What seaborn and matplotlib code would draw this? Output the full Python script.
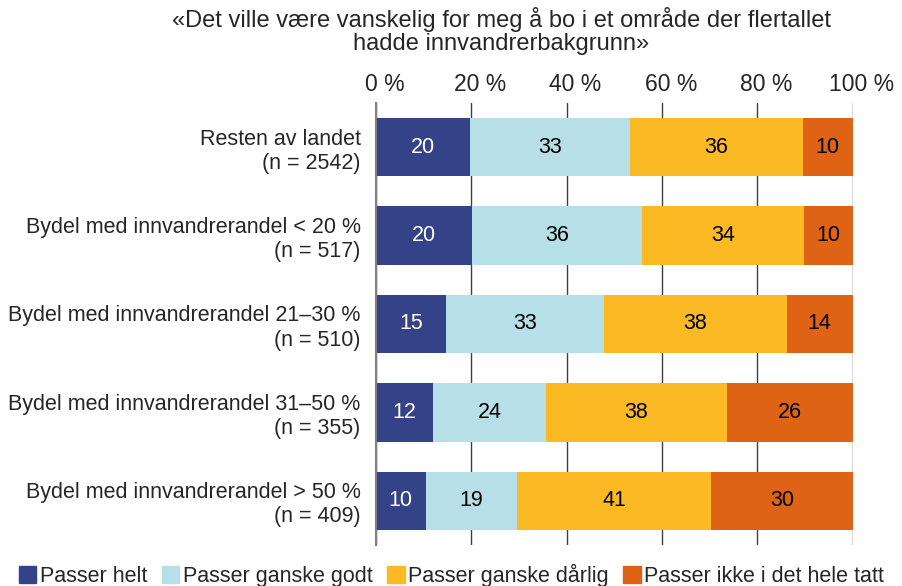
import matplotlib
matplotlib.use("Agg")
import matplotlib.pyplot as plt
import matplotlib.patches as mpatches
import matplotlib.transforms as mtransforms
import seaborn as sns
import pandas as pd
import numpy as np

# Data
kategorier = [
    "Resten av landet\n(n = 2542)",
    "Bydel med innvandrerandel < 20 %\n(n = 517)",
    "Bydel med innvandrerandel 21–30 %\n(n = 510)",
    "Bydel med innvandrerandel 31–50 %\n(n = 355)",
    "Bydel med innvandrerandel > 50 %\n(n = 409)",
]
serier = ["Passer helt", "Passer ganske godt", "Passer ganske dårlig", "Passer ikke i det hele tatt"]
passer_helt = [19.8, 20.2, 14.7, 12.0, 10.4]
passer_ganske_godt = [33.4, 35.6, 33.1, 23.6, 19.2]
passer_ganske_darlig = [36.4, 34.0, 38.4, 38.1, 40.8]
passer_ikke = [10.4, 10.2, 13.8, 26.3, 29.6]
farger = ["#344287", "#b7dfe8", "#fbb923", "#de6314"]
tekstfarger = ["white", "black", "black", "black"]

verdier = np.array([passer_helt, passer_ganske_godt, passer_ganske_darlig, passer_ikke])
kumulativ = verdier.cumsum(axis=0)

sns.set_style("white")
plt.rcParams["font.family"] = ["Liberation Sans", "DejaVu Sans"]

fig = plt.figure(figsize=(9.03, 5.86), dpi=100)
ax = fig.add_axes([0.4164, 0.070, 0.5277, 0.7542])

# stablede søyler: tegn kumulative summer bakfra
for i in range(len(serier) - 1, -1, -1):
    df = pd.DataFrame({"kategori": kategorier, "verdi": kumulativ[i]})
    sns.barplot(data=df, x="verdi", y="kategori", color=farger[i], width=0.66,
                saturation=1, ax=ax, zorder=3, linewidth=0)

# verdietiketter
for i in range(len(serier)):
    start = kumulativ[i] - verdier[i]
    for j in range(len(kategorier)):
        ax.text(start[j] + verdier[i][j] / 2, j, f"{round(verdier[i][j]):.0f}",
                ha="center", va="center", fontsize=15.5, color=tekstfarger[i], zorder=4)

ax.set_xlim(0, 100)
ax.set_ylim(4.5, -0.5)
ax.set_xticks([0, 20, 40, 60, 80, 100])
ax.set_xticklabels(["0 %", "20 %", "40 %", "60 %", "80 %", "100 %"])
ax.xaxis.tick_top()
ax.tick_params(axis="x", length=0, pad=5, labelsize=16.5)
ax.tick_params(axis="y", length=0, pad=11, labelsize=15.5)
# etikettene står litt til høyre for gitterlinjene i originalen
forskyv = mtransforms.ScaledTranslation(9 / 100, 0, fig.dpi_scale_trans)
for lbl in ax.get_xticklabels():
    lbl.set_transform(lbl.get_transform() + forskyv)
for lbl in ax.get_yticklabels():
    lbl.set_multialignment("right")
ax.set_xlabel("")
ax.set_ylabel("")
ax.grid(axis="x", color="#404040", linewidth=1, zorder=0)
ax.set_axisbelow(True)
for s in ["top", "right", "bottom"]:
    ax.spines[s].set_visible(False)
ax.spines["left"].set_color("#808080")
ax.spines["left"].set_linewidth(1.5)
ax.spines["left"].set_zorder(5)

fig.text(0.555, 0.988, "«Det ville være vanskelig for meg å bo i et område der flertallet\nhadde innvandrerbakgrunn»",
         ha="center", va="top", fontsize=17, linespacing=1.05)

handles = [mpatches.Patch(color=farger[i], label=serier[i]) for i in range(len(serier))]
fig.legend(handles=handles, loc="lower center", bbox_to_anchor=(0.5, -0.035), ncol=4,
           frameon=False, fontsize=15.5, handlelength=0.8, handleheight=0.8,
           handletextpad=0.15, columnspacing=0.7)

fig.savefig("out.png", dpi=100)
